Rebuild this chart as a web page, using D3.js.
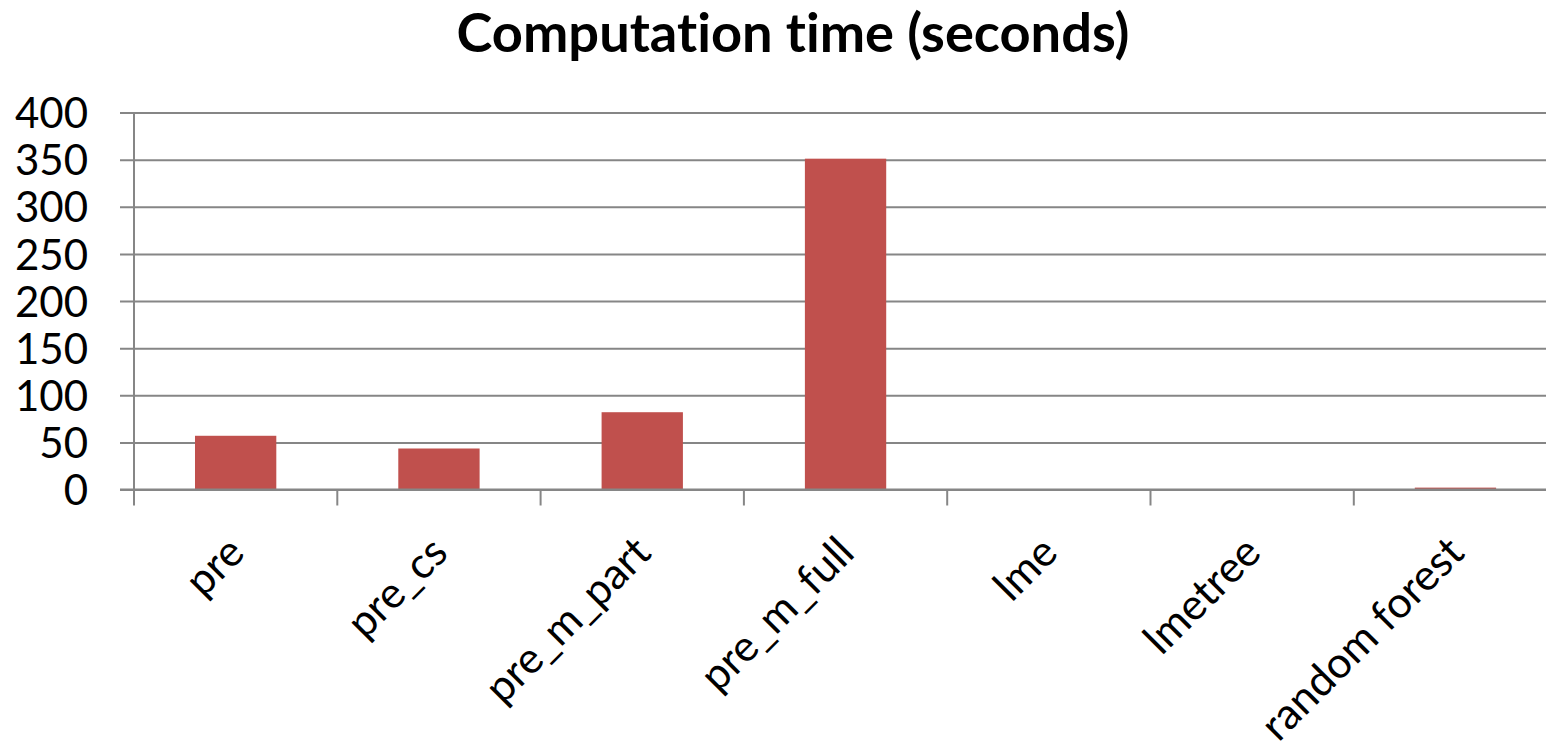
<!DOCTYPE html>
<html>
<head>
<meta charset="utf-8">
<script src="https://cdn.jsdelivr.net/npm/d3@7"></script>
<style>
  html, body { margin: 0; padding: 0; background: #fff; }
  svg { display: block; }
  text { font-family: Lato, "Open Sans", sans-serif; fill: #000; font-variant-ligatures: none; font-feature-settings: "liga" 0, "clig" 0; }
</style>
</head>
<body>
<svg id="chart" width="1546" height="751"></svg>
<script>
// Computation time per method, in seconds
const categories = ["pre", "pre_cs", "pre_m_part", "pre_m_full", "lme", "lmetree", "random forest"];
const seconds = [57, 43.5, 82, 351, 0, 0, 2];
const yTicks = [0, 50, 100, 150, 200, 250, 300, 350, 400];
const title = "Computation time (seconds)";

const W = 1546, H = 751;
const svg = d3.select("#chart");
const gridColor = "#868686";
const barColor = "#C0504D";

const y = d3.scaleLinear().domain([0, 400]).range([489.5, 112.5]);
const x = d3.scaleBand().domain(categories).range([134, 134 + 7 * 203.3]).padding(0);

// Horizontal gridlines with the value labels on the left
const yAxis = d3.axisLeft(y)
  .tickValues(yTicks)
  .tickSize(-(W - 120))
  .tickPadding(32)
  .tickFormat(d3.format("d"));
const gy = svg.append("g").attr("transform", "translate(120,0)").call(yAxis);
gy.select(".domain").remove();
gy.selectAll(".tick line").attr("stroke", gridColor).attr("stroke-width", 2);
gy.selectAll(".tick text")
  .attr("font-size", 42)
  .attr("font-family", "Lato, 'Open Sans', sans-serif")
  .attr("fill", "#000")
  .attr("dy", "0.36em");

// Vertical axis line
svg.append("line")
  .attr("x1", 134).attr("x2", 134)
  .attr("y1", y(400)).attr("y2", y(0))
  .attr("stroke", gridColor).attr("stroke-width", 2);

// Bars
svg.append("g").selectAll("rect")
  .data(categories.map((c, i) => ({ c, v: seconds[i] })))
  .join("rect")
  .attr("x", d => x(d.c) + x.bandwidth() * 0.3)
  .attr("width", x.bandwidth() * 0.4)
  .attr("y", d => y(d.v))
  .attr("height", d => y(0) - y(d.v))
  .attr("fill", barColor);

// Category axis line and boundary ticks
svg.append("line")
  .attr("x1", 120).attr("x2", W)
  .attr("y1", y(0)).attr("y2", y(0))
  .attr("stroke", gridColor).attr("stroke-width", 2);
const boundaries = categories.map(c => x(c)).concat([x.range()[1]]);
svg.append("g").selectAll("line")
  .data(boundaries)
  .join("line")
  .attr("x1", d => d).attr("x2", d => d)
  .attr("y1", y(0)).attr("y2", y(0) + 16)
  .attr("stroke", gridColor).attr("stroke-width", 2);

// Rotated category labels
svg.append("g").selectAll("text")
  .data(categories)
  .join("text")
  .attr("transform", d => `translate(${x(d) + x.bandwidth() / 2 + 11},555) rotate(-45)`)
  .attr("text-anchor", "end")
  .attr("font-size", 43)
  .text(d => d);

// Title, sized to its measured width
const t = svg.append("text")
  .attr("x", 793).attr("y", 52)
  .attr("text-anchor", "middle")
  .attr("font-weight", "bold")
  .attr("font-size", 50)
  .text(title);
const tw = t.node().getComputedTextLength();
t.attr("font-size", 50 * 673 / tw);
</script>
</body>
</html>
